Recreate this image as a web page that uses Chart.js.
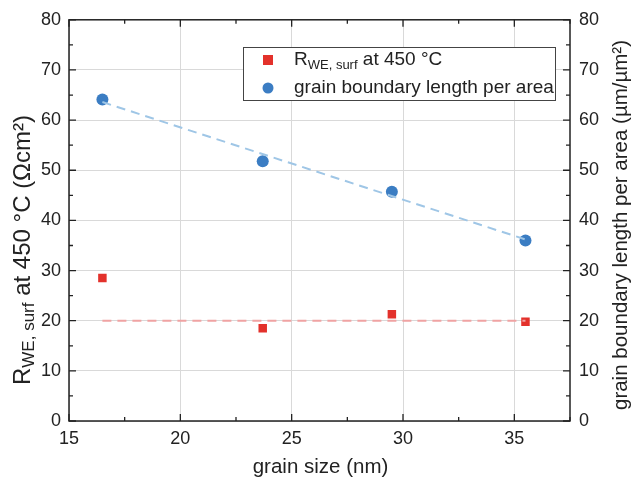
<!DOCTYPE html>
<html lang="en">
<head>
    <meta charset="UTF-8">
    <title>grain size chart</title>
    <script src="https://cdn.jsdelivr.net/npm/chart.js"></script>
    <style>
        html, body { margin: 0; padding: 0; background: #fff; }
        #wrap { width: 632px; height: 479px; }
    </style>
</head>
<body>
    <div id="wrap"><canvas id="chart"></canvas></div>

    <script>
        // data
        const grainSize = [16.5, 23.7, 29.5, 35.5];
        const resistance = [28.5, 18.5, 21.3, 19.8];
        const boundaryLength = [64.1, 51.8, 45.7, 36.0];
        const resFitX = [16.5, 35.5];
        const resFitY = [20.0, 20.0];
        const lenFitX = [16.5, 35.5];
        const lenFitY = [63.6, 36.2];
        const xTicks = [15, 20, 25, 30, 35];
        const yTicks = [0, 10, 20, 30, 40, 50, 60, 70, 80];

        const FONT = '"Liberation Sans", Arial, sans-serif';
        const toPts = (xs, ys) => xs.map((x, i) => ({ x: x, y: ys[i] }));

        // draw text made of pieces [text, font, yShift] starting at x
        function drawRich(c, parts, x, y) {
            parts.forEach(p => {
                c.font = p[1];
                c.fillText(p[0], x, y + p[2]);
                x += c.measureText(p[0]).width;
            });
        }
        function richWidth(c, parts) {
            let w = 0;
            parts.forEach(p => { c.font = p[1]; w += c.measureText(p[0]).width; });
            return w;
        }

        // frame, inward ticks, axis titles and legend
        const decor = {
            id: 'decor',
            afterDraw(chart) {
                const c = chart.ctx, a = chart.chartArea;
                const sx = chart.scales.x, sy = chart.scales.y;
                c.save();
                c.strokeStyle = '#222';
                c.lineWidth = 1.5;
                c.strokeRect(a.left, a.top, a.right - a.left, a.bottom - a.top);

                c.lineWidth = 1.3;
                c.beginPath();
                for (let v = 15; v <= 37.5; v += 2.5) {
                    const p = sx.getPixelForValue(v);
                    const len = (v % 5 === 0) ? 7 : 4;
                    c.moveTo(p, a.bottom); c.lineTo(p, a.bottom - len);
                    c.moveTo(p, a.top); c.lineTo(p, a.top + len);
                }
                for (let v = 0; v <= 80; v += 5) {
                    const p = sy.getPixelForValue(v);
                    const len = (v % 10 === 0) ? 7 : 4;
                    c.moveTo(a.left, p); c.lineTo(a.left + len, p);
                    c.moveTo(a.right, p); c.lineTo(a.right - len, p);
                }
                c.stroke();

                c.fillStyle = '#222';
                // x title
                c.font = '20.5px ' + FONT;
                c.textAlign = 'center';
                c.textBaseline = 'middle';
                c.fillText('grain size (nm)', (a.left + a.right) / 2 + 1, 467);

                // right title
                c.save();
                c.translate(621, 225);
                c.rotate(-Math.PI / 2);
                c.fillText('grain boundary length per area (\u00b5m/\u00b5m\u00b2)', 0, 0);
                c.restore();

                // left title with subscript
                c.save();
                c.translate(23, 250);
                c.rotate(-Math.PI / 2);
                c.textAlign = 'left';
                const leftParts = [
                    ['R', '24px ' + FONT, 0],
                    ['WE, surf', '17px ' + FONT, 6],
                    [' at 450 \u00b0C (\u03a9cm\u00b2)', '24px ' + FONT, 0]
                ];
                drawRich(c, leftParts, -richWidth(c, leftParts) / 2, 0);
                c.restore();

                // legend
                c.fillStyle = '#fff';
                c.fillRect(243, 47, 312, 53);
                c.strokeStyle = '#444';
                c.lineWidth = 1;
                c.strokeRect(243.5, 47.5, 312, 53);
                c.fillStyle = '#e3312b';
                c.fillRect(263, 55, 10, 10);
                c.fillStyle = '#3b7dc3';
                c.beginPath();
                c.arc(268, 88, 5.5, 0, Math.PI * 2);
                c.fill();
                c.fillStyle = '#222';
                c.textAlign = 'left';
                c.textBaseline = 'middle';
                drawRich(c, [
                    ['R', '19px ' + FONT, 0],
                    ['WE, surf', '13px ' + FONT, 5],
                    [' at 450 \u00b0C', '19px ' + FONT, 0]
                ], 294, 60);
                c.font = '19px ' + FONT;
                c.fillText('grain boundary length per area', 294, 88);
                c.restore();
            }
        };

        const ctx = document.getElementById('chart').getContext('2d');
        new Chart(ctx, {
            type: 'scatter',
            data: {
                datasets: [{
                    label: 'R fit',
                    data: toPts(resFitX, resFitY),
                    showLine: true,
                    borderColor: '#f0a3a3',
                    borderWidth: 2,
                    borderDash: [9, 6],
                    pointRadius: 0,
                    yAxisID: 'y'
                }, {
                    label: 'length fit',
                    data: toPts(lenFitX, lenFitY),
                    showLine: true,
                    borderColor: '#9fc6e6',
                    borderWidth: 2,
                    borderDash: [9, 6],
                    pointRadius: 0,
                    yAxisID: 'y2'
                }, {
                    label: 'R_WE, surf at 450 °C',
                    data: toPts(grainSize, resistance),
                    pointStyle: 'rect',
                    pointRadius: 6,
                    backgroundColor: '#e3312b',
                    borderWidth: 0,
                    yAxisID: 'y'
                }, {
                    label: 'grain boundary length per area',
                    data: toPts(grainSize, boundaryLength),
                    pointStyle: 'circle',
                    pointRadius: 6,
                    backgroundColor: '#3b7dc3',
                    borderWidth: 0,
                    yAxisID: 'y2'
                }]
            },
            options: {
                responsive: true,
                maintainAspectRatio: false,
                animation: false,
                layout: { padding: { top: 18, left: 0, right: 0, bottom: 0 } },
                plugins: { legend: { display: false }, tooltip: { enabled: false } },
                scales: {
                    x: {
                        type: 'linear',
                        min: 15, max: 37.5,
                        afterBuildTicks: s => { s.ticks = xTicks.map(v => ({ value: v })); },
                        afterFit: s => { s.height = 58; },
                        grid: { color: '#d9d9d9', drawTicks: false },
                        border: { display: false },
                        ticks: { color: '#222', padding: 7, font: { family: FONT, size: 18 } }
                    },
                    y: {
                        position: 'left',
                        min: 0, max: 80,
                        afterBuildTicks: s => { s.ticks = yTicks.map(v => ({ value: v })); },
                        afterFit: s => { s.width = 69; },
                        grid: { color: '#d9d9d9', drawTicks: false },
                        border: { display: false },
                        ticks: { color: '#222', padding: 8, font: { family: FONT, size: 18 } }
                    },
                    y2: {
                        position: 'right',
                        min: 0, max: 80,
                        afterBuildTicks: s => { s.ticks = yTicks.map(v => ({ value: v })); },
                        afterFit: s => { s.width = 62; },
                        grid: { display: false, drawTicks: false },
                        border: { display: false },
                        ticks: { color: '#222', padding: 9, font: { family: FONT, size: 18 } }
                    }
                }
            },
            plugins: [decor]
        });
    </script>
</body>
</html>
